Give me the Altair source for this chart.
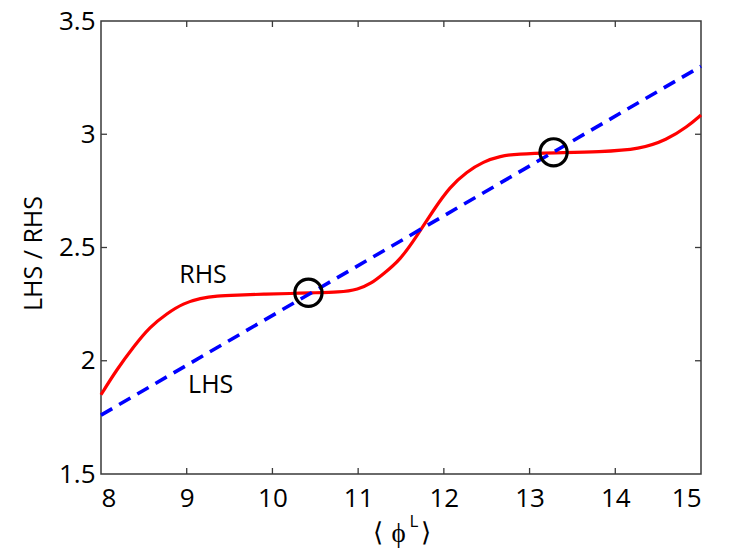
import altair as alt
import pandas as pd

# Right-hand side curve (red, solid)
rhs_x = [8.0, 8.18, 8.38, 8.57, 8.77, 8.96, 9.16, 9.35, 9.58, 9.90, 10.23, 10.42,
         10.79, 11.00, 11.15, 11.30, 11.49, 11.68, 11.88, 12.07, 12.27, 12.46, 12.66,
         12.85, 13.29, 13.82, 14.29, 14.60, 14.84, 15.0]
rhs_y = [1.85, 1.959, 2.062, 2.150, 2.209, 2.254, 2.276, 2.287, 2.290, 2.294, 2.297,
         2.300, 2.302, 2.315, 2.340, 2.385, 2.445, 2.548, 2.666, 2.768, 2.835, 2.879,
         2.904, 2.913, 2.918, 2.922, 2.934, 2.975, 3.033, 3.085]

# Left-hand side line (blue, dashed)
lhs_x = [8.0, 15.0]
lhs_y = [1.76, 3.30]

# Self-consistent solutions (circled)
sol_x = [10.42, 13.28]
sol_y = [2.30, 2.92]

# Curve labels
lab_text = ["RHS", "LHS"]
lab_x = [9.19, 9.28]
lab_y = [2.38, 1.893]

x_ticks = [8, 9, 10, 11, 12, 13, 14, 15]
y_ticks = [1.5, 2, 2.5, 3, 3.5]

W, H = 600, 453
FONT = "Open Sans"
FRAME = "#3a3a3a"

xs = alt.Scale(domain=[8, 15], nice=False, zero=False)
ys = alt.Scale(domain=[1.5, 3.5], nice=False, zero=False)

rhs_df = pd.DataFrame({"x": rhs_x, "y": rhs_y})
lhs_df = pd.DataFrame({"x": lhs_x, "y": lhs_y})
sol_df = pd.DataFrame({"x": sol_x, "y": sol_y})
lab_df = pd.DataFrame({"x": lab_x, "y": lab_y, "t": lab_text})
xt_df = pd.DataFrame({"v": x_ticks[1:-1]})
yt_df = pd.DataFrame({"v": y_ticks[1:-1]})

x_axis = alt.Axis(values=x_ticks, format="~g", domain=False, ticks=False, grid=False,
                  labelFontSize=26, labelPadding=11, labelColor="black", title=None)
y_axis = alt.Axis(values=y_ticks, format="~g", domain=False, ticks=False, grid=False,
                  labelFontSize=26, labelPadding=6, labelColor="black",
                  title="LHS / RHS", titleFontSize=25, titleFontWeight="normal",
                  titleColor="black", titleX=-68, titleY=232, titleAngle=-90,
                  titleAlign="center", titleBaseline="middle")

rhs = alt.Chart(rhs_df).mark_line(color="#ff0000", strokeWidth=3.2,
                                  interpolate="basis").encode(
    x=alt.X("x:Q", scale=xs, axis=x_axis),
    y=alt.Y("y:Q", scale=ys, axis=y_axis),
)

lhs = alt.Chart(lhs_df).mark_line(color="#0000ff", strokeWidth=3.6,
                                  strokeDash=[13, 8]).encode(
    x=alt.X("x:Q", scale=xs),
    y=alt.Y("y:Q", scale=ys),
)

sols = alt.Chart(sol_df).mark_point(shape="circle", size=740, filled=False,
                                    color="black", strokeWidth=3.2, opacity=1).encode(
    x=alt.X("x:Q", scale=xs),
    y=alt.Y("y:Q", scale=ys),
)

labels = alt.Chart(lab_df).mark_text(font=FONT, fontSize=25, color="black",
                                     align="center", baseline="middle").encode(
    x=alt.X("x:Q", scale=xs),
    y=alt.Y("y:Q", scale=ys),
    text="t:N",
)

# x-axis title: angle brackets around phi with a superscript L
title_style = dict(font=FONT, color="black", baseline="middle", align="center")
t_open = alt.Chart().mark_text(text="⟨", fontSize=26, fontWeight=300, **title_style).encode(
    x=alt.value(276.5), y=alt.value(512))
t_phi = alt.Chart().mark_text(text="ϕ", fontSize=27, **title_style).encode(
    x=alt.value(297.5), y=alt.value(513))
t_sup = alt.Chart().mark_text(text="L", fontSize=17, **title_style).encode(
    x=alt.value(313), y=alt.value(501))
t_close = alt.Chart().mark_text(text="⟩", fontSize=26, fontWeight=300, **title_style).encode(
    x=alt.value(325), y=alt.value(512))

# Inward-pointing tick marks on all four sides of the frame
tick_style = dict(color=FRAME, strokeWidth=1.3)
bottom_ticks = alt.Chart(xt_df).mark_rule(**tick_style).encode(
    x=alt.X("v:Q", scale=xs), y=alt.value(H), y2=alt.value(H - 6))
top_ticks = alt.Chart(xt_df).mark_rule(**tick_style).encode(
    x=alt.X("v:Q", scale=xs), y=alt.value(0), y2=alt.value(6))
left_ticks = alt.Chart(yt_df).mark_rule(**tick_style).encode(
    y=alt.Y("v:Q", scale=ys), x=alt.value(0), x2=alt.value(6))
right_ticks = alt.Chart(yt_df).mark_rule(**tick_style).encode(
    y=alt.Y("v:Q", scale=ys), x=alt.value(W), x2=alt.value(W - 6))

chart = alt.layer(
    bottom_ticks, top_ticks, left_ticks, right_ticks,
    rhs, lhs, sols, labels,
    t_open, t_phi, t_sup, t_close,
).properties(
    width=W, height=H,
    autosize=alt.AutoSizeParams(type="none"),
    padding={"left": 101, "top": 21, "right": 29, "bottom": 76},
    background="white",
).configure(
    font=FONT,
).configure_view(
    stroke=FRAME, strokeWidth=1.5,
).configure_axis(
    labelFont=FONT, titleFont=FONT,
)

chart.save("out.html", embed_options={"renderer": "svg", "actions": False})
